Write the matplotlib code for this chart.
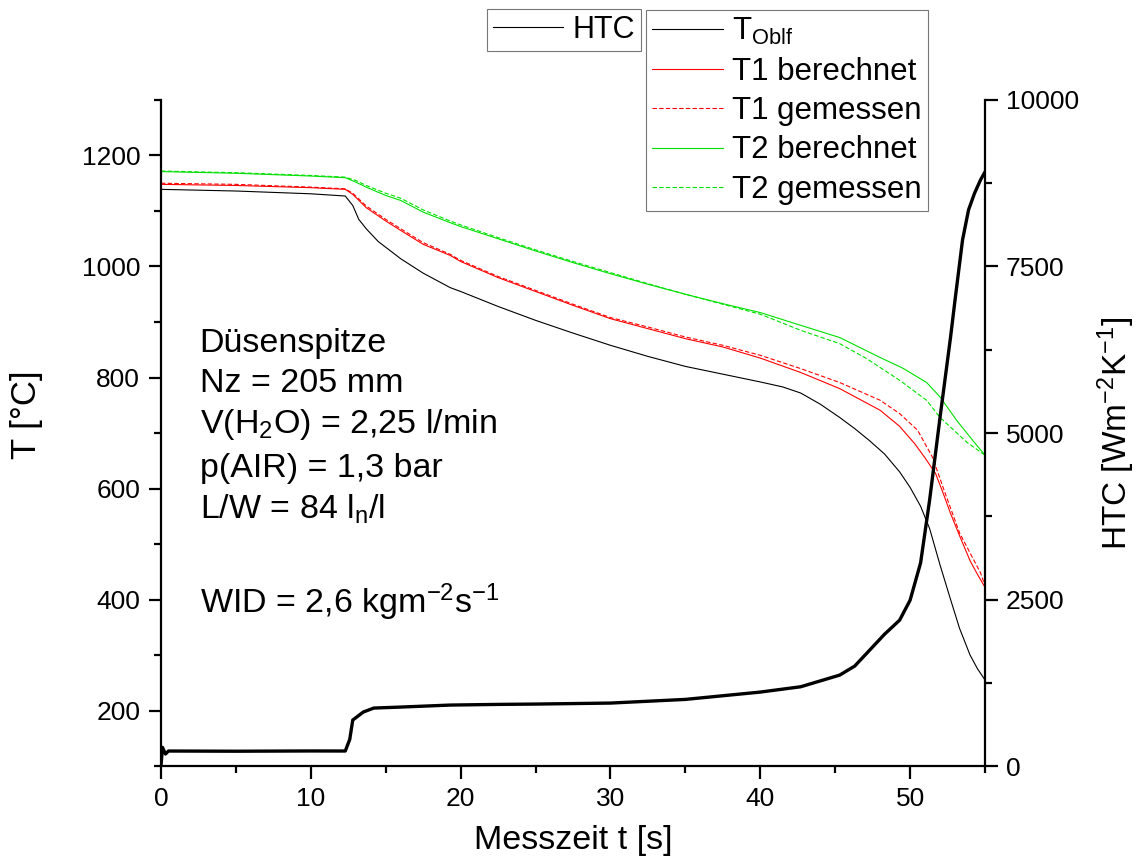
import matplotlib
matplotlib.use("Agg")
import matplotlib.pyplot as plt
from matplotlib.lines import Line2D

plt.rcParams['font.family'] = ['Liberation Sans', 'DejaVu Sans']
plt.rcParams['mathtext.fontset'] = 'custom'
plt.rcParams['mathtext.rm'] = 'Liberation Sans'
plt.rcParams['mathtext.it'] = 'Liberation Sans:italic'

# --- data ---
t_oblf = [0, 5, 10, 12.3, 12.8, 13.2, 13.7, 14.5, 16, 17.5, 19.3, 20, 22.5, 25, 27.5,
          30, 32.5, 35, 37.5, 40, 41.5, 42.7, 44, 45.3, 46.3, 47.3, 48.3, 49.3, 50,
          50.7, 51.3, 52, 52.7, 53.3, 54, 54.5, 55]
T_oblf = [1139, 1136, 1131, 1127, 1110, 1085, 1068, 1045, 1014, 988, 962, 955, 928, 903,
          880, 858, 838, 820, 806, 792, 783, 772, 752, 728, 708, 686, 662, 630, 602,
          568, 528, 462, 400, 348, 300, 275, 255]

t_t1b = [0, 5, 10, 12.3, 12.8, 13.7, 15, 16, 17.5, 19.3, 20, 22.5, 25, 27.5, 30, 32.5,
         35, 37.5, 40, 42.7, 45.3, 48, 49.3, 50.3, 51, 51.7, 52.2, 52.7, 53.3, 54,
         54.5, 55]
T_t1b = [1148, 1146, 1142, 1139, 1130, 1106, 1082, 1065, 1040, 1020, 1009, 980, 955,
         930, 906, 888, 870, 855, 835, 809, 780, 741, 712, 681, 655, 627, 592, 555,
         515, 470, 445, 422]

t_t1g = [0, 5, 10, 12.3, 12.8, 13.7, 15, 16, 17.5, 19.3, 20, 22.5, 25, 27.5, 30, 32.5,
         35, 37.5, 40, 42.7, 45.3, 48, 49.3, 50.5, 51.5, 52.2, 53.3, 54.7, 55]
T_t1g = [1150, 1148, 1143, 1140, 1132, 1109, 1085, 1068, 1043, 1022, 1011, 982, 957,
         932, 908, 891, 873, 858, 840, 816, 791, 759, 735, 705, 656, 602, 520, 448, 425]

t_t2b = [0, 5, 10, 12.3, 13, 13.7, 15, 16, 17.5, 19.3, 20, 22.5, 25, 27.5, 30, 32.5,
         35, 37.5, 40, 42.7, 45.3, 48, 49.5, 51.1, 52, 53.1, 54.2, 55]
T_t2b = [1171, 1168, 1163, 1160, 1152, 1143, 1128, 1119, 1098, 1079, 1072, 1050, 1028,
         1007, 987, 968, 950, 933, 917, 894, 872, 836, 817, 791, 765, 723, 686, 660]

t_t2g = [0, 5, 10, 12.3, 13, 13.7, 15, 16, 17.5, 19.3, 20, 22.5, 25, 27.5, 30, 32.5,
         35, 37.5, 40, 42.7, 45.3, 47.1, 49.3, 51.1, 52, 53.8, 55]
T_t2g = [1172, 1169, 1164, 1161, 1155, 1146, 1132, 1123, 1102, 1082, 1075, 1052, 1030,
         1009, 989, 969, 950, 932, 914, 885, 861, 834, 795, 759, 728, 683, 660]

t_htc = [0, 0.1, 0.3, 0.5, 5, 10, 12.3, 12.6, 12.8, 13.5, 14.2, 16, 19.3, 22.5, 25, 30,
         35, 40, 42.7, 45.3, 46.3, 47.3, 48.3, 49.3, 50, 50.7, 51.3, 52, 52.7, 53,
         53.5, 53.9, 54.3, 54.7, 55]
htc = [0, 280, 180, 225, 222, 226, 225, 400, 690, 810, 870, 885, 915, 925, 930, 945,
       1000, 1110, 1190, 1365, 1500, 1740, 1980, 2190, 2490, 3050, 3990, 5240, 6440,
       7000, 7900, 8350, 8600, 8800, 8920]

info_lines = ['Düsenspitze', 'Nz = 205 mm', r'V(H$_\mathregular{2}$O) = 2,25 l/min',
              'p(AIR) = 1,3 bar', r'L/W = 84 l$_\mathregular{n}$/l',
              r'WID = 2,6 kgm$^\mathregular{-2}$s$^\mathregular{-1}$']
info_y = [0.621, 0.561, 0.500, 0.434, 0.372, 0.230]

fig = plt.figure(figsize=(11.36, 8.68), dpi=100)
ax = fig.add_axes([0.1417, 0.1175, 0.7254, 0.7673])
ax2 = ax.twinx()

red = '#ff0000'
green = '#00e000'
dash = (0, (4, 2))
ax.plot(t_oblf, T_oblf, color='black', lw=0.8)
ax.plot(t_t1b, T_t1b, color=red, lw=0.8)
ax.plot(t_t1g, T_t1g, color=red, lw=0.8, ls=dash)
ax.plot(t_t2b, T_t2b, color=green, lw=0.8)
ax.plot(t_t2g, T_t2g, color=green, lw=0.8, ls=dash)
ax2.plot(t_htc, htc, color='black', lw=2.4)

ax.set_xlim(0, 55)
ax.set_ylim(100, 1300)
ax2.set_ylim(0, 10000)
ax.set_xticks(range(0, 51, 10))
ax.set_xticks(range(5, 56, 10), minor=True)
ax.set_yticks(range(200, 1201, 200))
ax.set_yticks(range(100, 1301, 200), minor=True)
ax2.set_yticks(range(0, 10001, 2500))
ax2.set_yticks(range(1250, 10000, 2500), minor=True)

for a in (ax, ax2):
    a.spines['top'].set_visible(False)
    for s in a.spines.values():
        s.set_linewidth(1.6)
    a.tick_params(which='major', direction='out', length=9, width=1.6, labelsize=19, pad=6)
    a.tick_params(which='minor', direction='out', length=5, width=1.6)
ax.spines['right'].set_visible(False)
ax2.spines['left'].set_visible(False)
ax2.spines['bottom'].set_visible(False)

ax.set_xlabel('Messzeit t [s]', fontsize=24.5, labelpad=10)
ax.set_ylabel('T [°C]', fontsize=25)
ax.yaxis.set_label_coords(-0.143, 0.527)
ax2.set_ylabel(r'HTC [Wm$^\mathregular{-2}$K$^\mathregular{-1}$]', fontsize=24, labelpad=12)

for txt, yy in zip(info_lines, info_y):
    ax.text(0.047, yy, txt, transform=ax.transAxes, fontsize=24.5, va='baseline')

h1 = [Line2D([], [], color='black', lw=0.8)]
leg1 = fig.legend(h1, ['HTC'], loc='upper left', bbox_to_anchor=(0.4287, 0.9896),
                  fontsize=22, frameon=True, fancybox=False, edgecolor='#555555',
                  handlelength=2.3, handletextpad=0.3, borderpad=0.2, borderaxespad=0)
leg1.get_frame().set_linewidth(0.8)

h2 = [Line2D([], [], color='black', lw=0.8),
      Line2D([], [], color=red, lw=0.8),
      Line2D([], [], color=red, lw=0.8, ls=dash),
      Line2D([], [], color=green, lw=0.8),
      Line2D([], [], color=green, lw=0.8, ls=dash)]
labels2 = [r'T$_\mathregular{Oblf}$', 'T1 berechnet', 'T1 gemessen', 'T2 berechnet', 'T2 gemessen']
leg2 = fig.legend(h2, labels2, loc='upper left', bbox_to_anchor=(0.5687, 0.9885),
                  fontsize=22.5, frameon=True, fancybox=False, edgecolor='#555555',
                  handlelength=2.25, handletextpad=0.3, borderpad=0.2, labelspacing=0.3,
                  borderaxespad=0)
leg2.get_frame().set_linewidth(0.8)

fig.savefig('out.png', dpi=100)
